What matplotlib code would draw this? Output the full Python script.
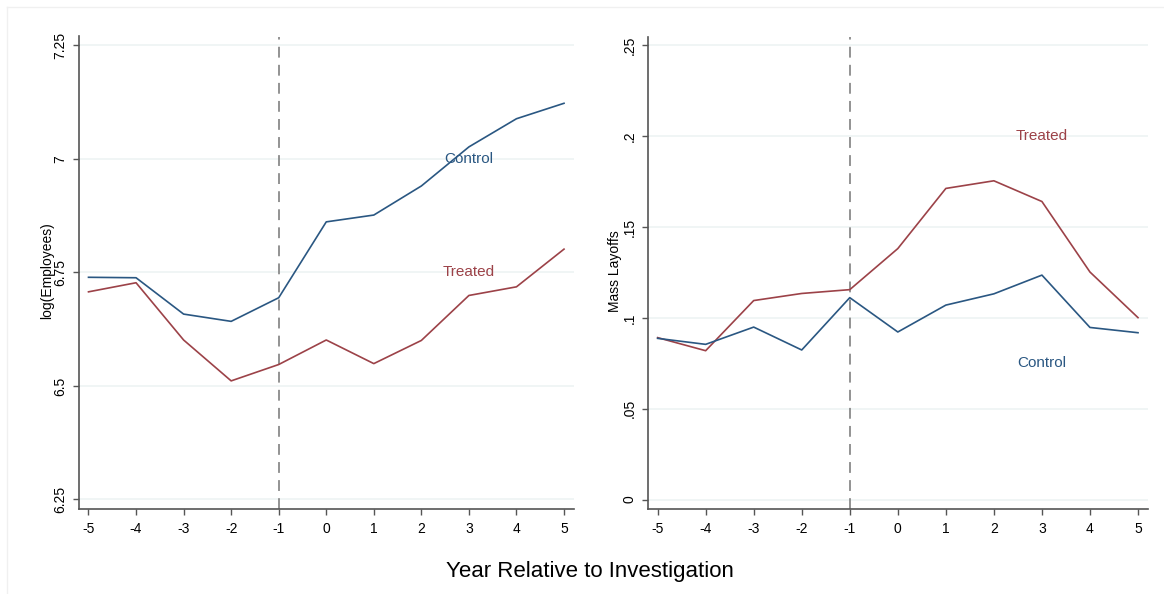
import numpy as np
import matplotlib.pyplot as plt
from matplotlib.lines import Line2D

plt.rcParams['font.family'] = ['Liberation Sans', 'DejaVu Sans']

years = [-5, -4, -3, -2, -1, 0, 1, 2, 3, 4, 5]

# log(Employees)
emp_control = [6.739, 6.738, 6.658, 6.642, 6.694, 6.861, 6.876, 6.940, 7.026, 7.088, 7.122]
emp_treated = [6.707, 6.727, 6.601, 6.511, 6.547, 6.601, 6.549, 6.600, 6.699, 6.718, 6.801]

# Mass Layoffs
lay_control = [0.0887, 0.0854, 0.0949, 0.0823, 0.1111, 0.0922, 0.1070, 0.1132, 0.1235, 0.0947, 0.0918]
lay_treated = [0.0891, 0.0819, 0.1095, 0.1134, 0.1155, 0.1381, 0.1712, 0.1754, 0.1640, 0.1252, 0.1001]

emp_ticks = [6.25, 6.5, 6.75, 7, 7.25]
emp_ticklabels = ['6.25', '6.5', '6.75', '7', '7.25']
lay_ticks = [0, 0.05, 0.1, 0.15, 0.2, 0.25]
lay_ticklabels = ['0', '.05', '.1', '.15', '.2', '.25']

navy = '#2a5782'
maroon = '#9c4248'
gridc = '#edf3f4'
axc = '#555555'

fig = plt.figure(figsize=(11.64, 5.94), dpi=100)
fig.patch.set_facecolor('white')

W, H = 1164, 594
ax1 = fig.add_axes([78.7 / W, 1 - 509 / H, (574 - 78.7) / W, (509 - 36.5) / H])
ax2 = fig.add_axes([648.2 / W, 1 - 509 / H, (1147.8 - 648.2) / W, (509 - 36.5) / H])


def style(ax, yticks, ylabels, ylab, labx):
    for s in ['top', 'right']:
        ax.spines[s].set_visible(False)
    for s in ['left', 'bottom']:
        ax.spines[s].set_color(axc)
        ax.spines[s].set_linewidth(1.2)
    ax.set_xticks(years)
    ax.set_xticklabels([str(y) for y in years], fontsize=10)
    ax.set_yticks(yticks)
    ax.set_yticklabels(ylabels, fontsize=10, rotation=90, va='center')
    ax.tick_params(axis='both', length=4.5, width=1, color=axc, pad=4)
    ax.tick_params(axis='x', pad=5)
    ax.grid(axis='y', color=gridc, linewidth=1.2)
    ax.set_axisbelow(True)
    ax.axvline(-1, color='#8a8a8a', linestyle=(0, (6, 4)), linewidth=1.3)
    ax.set_ylabel(ylab, fontsize=10)
    ax.yaxis.set_label_coords(labx, 0.504)


style(ax1, emp_ticks, emp_ticklabels, 'log(Employees)', -0.05)
ax1.plot(years, emp_control, color=navy, linewidth=1.2)
ax1.plot(years, emp_treated, color=maroon, linewidth=1.2)
ax1.set_xlim(-5.206, 5.21)
ax1.set_ylim(6.229, 7.269)
ax1.text(3, 7.0, 'Control', color=navy, fontsize=11, ha='center', va='center')
ax1.text(3, 6.75, 'Treated', color=maroon, fontsize=11, ha='center', va='center')

style(ax2, lay_ticks, lay_ticklabels, 'Mass Layoffs', -0.052)
ax2.plot(years, lay_treated, color=maroon, linewidth=1.2)
ax2.plot(years, lay_control, color=navy, linewidth=1.2)
ax2.set_xlim(-5.196, 5.204)
ax2.set_ylim(-0.0052, 0.2548)
ax2.text(3, 0.2, 'Treated', color=maroon, fontsize=11, ha='center', va='center')
ax2.text(3, 0.075, 'Control', color=navy, fontsize=11, ha='center', va='center')

fig.text(590 / W, 1 - 572 / H, 'Year Relative to Investigation', fontsize=16,
         ha='center', va='center')

# faint outer frame
fig.add_artist(Line2D([7 / W, 1], [1 - 7 / H, 1 - 7 / H], color='#f0f0f0', linewidth=1))
fig.add_artist(Line2D([7 / W, 7 / W], [0, 1 - 7 / H], color='#f0f0f0', linewidth=1))

fig.savefig('out.png', dpi=100)
